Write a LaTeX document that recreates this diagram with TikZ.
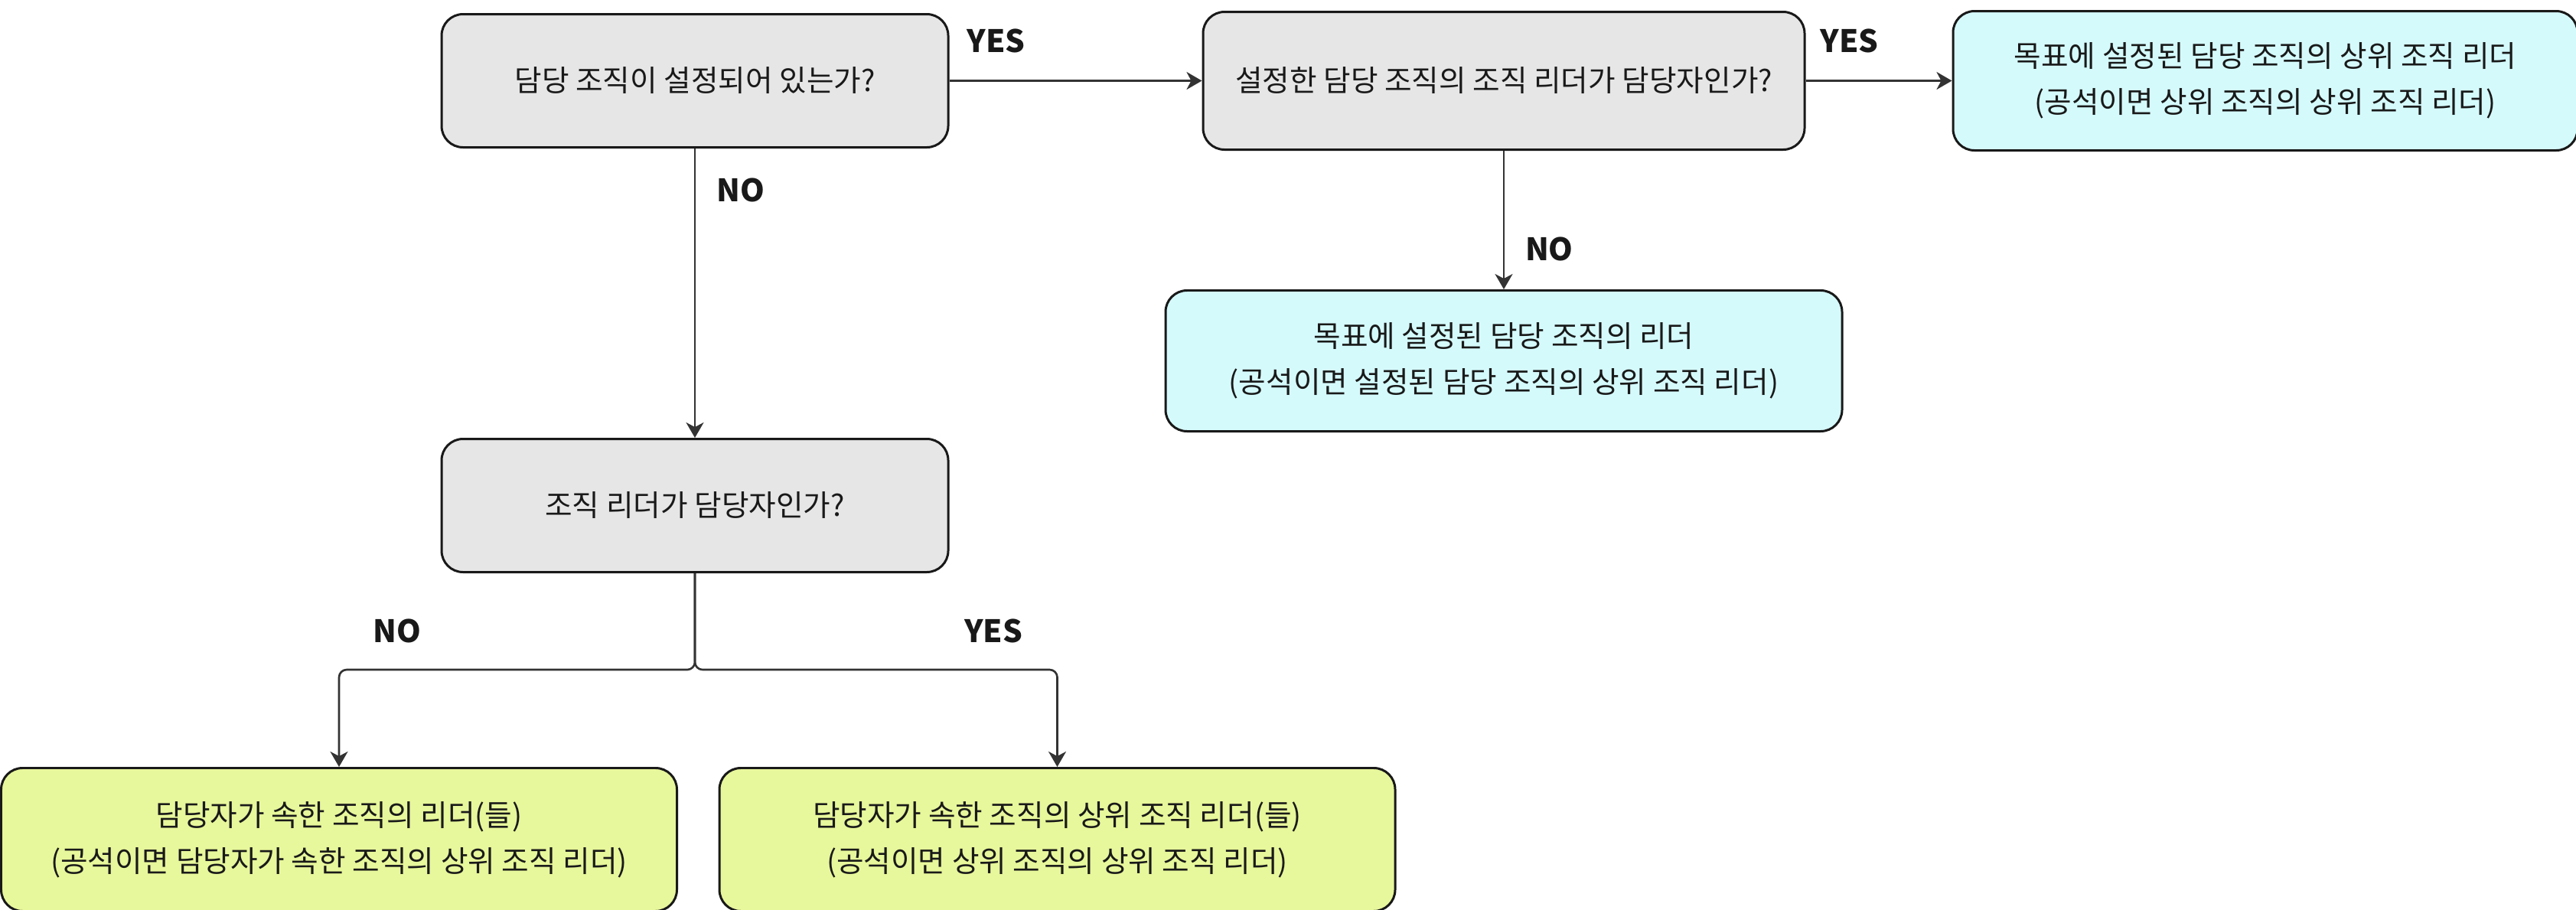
\documentclass[tikz,border=0pt]{standalone}
\usepackage{fontspec}
\setmainfont{Noto Sans CJK KR}
\usetikzlibrary{positioning}
\usetikzlibrary{arrows.meta}
\definecolor{askgray}{HTML}{E6E6E6}
\definecolor{leadcyan}{HTML}{D5FAFC}
\definecolor{leadlime}{HTML}{E7F79B}
\definecolor{linegray}{HTML}{333333}
\tikzset{
    question/.style={
        draw=black!90,
        line width=0.85pt,
        rounded corners=0.28cm,
        fill=askgray,
        text=black!90,
        minimum width=6.62cm,
        minimum height=1.74cm,
        align=center,
        font=\fontsize{11pt}{17pt}\selectfont
    },
    answer/.style={
        question,
        minimum width=8.83cm,
        minimum height=1.87cm
    },
    flow/.style={
        draw=linegray,
        ->,>={Stealth[length=2mm, width=2.3mm, inset=0.6mm]},
        line width=0.75pt
    },
    every edge/.append style={
        flow
    },
    yesno/.style={
        font=\fontsize{11.5pt}{12pt}\selectfont\bfseries,
        text=black!90
    }
}

\begin{document}
\begin{tikzpicture}
                \useasboundingbox (0,0) rectangle (33.66,-11.88);
                \node[question] (hasorg) at (9.08,-1.055) {담당 조직이 설정되어 있는가?};
                \node[question, right=3.3cm of hasorg, minimum width=7.86cm, minimum height=1.8cm] (orglead) {설정한 담당 조직의 조직 리더가 담당자인가?};
                \node[answer, right=1.91cm of orglead, fill=leadcyan, minimum width=8.16cm, minimum height=1.82cm] (upperlead) {목표에 설정된 담당 조직의 상위 조직 리더\\(공석이면 상위 조직의 상위 조직 리더)};
                \node[answer, below=1.81cm of orglead, fill=leadcyan, minimum width=8.84cm, minimum height=1.84cm] (setlead) {목표에 설정된 담당 조직의 리더\\(공석이면 설정된 담당 조직의 상위 조직 리더)};
                \node[question, below=3.78cm of hasorg] (isleader) {조직 리더가 담당자인가?};
                \node[answer, below=2.53cm of isleader, xshift=-4.65cm, fill=leadlime] (ownlead) {담당자가 속한 조직의 리더(들)\\(공석이면 담당자가 속한 조직의 상위 조직 리더)};
                \node[answer, below=2.53cm of isleader, xshift=4.735cm, fill=leadlime] (upperown) {담당자가 속한 조직의 상위 조직 리더(들)\\(공석이면 상위 조직의 상위 조직 리더)};
                \draw (hasorg) edge node[yesno, pos=0.185, above=0.235cm] (yesorg) {YES} (orglead)
                    edge node[yesno, pos=0.143, right=0.155cm] (noorg) {NO} (isleader);
                \draw (orglead) edge node[yesno, pos=0.3, above=0.235cm] (yesupper) {YES} (upperlead)
                    edge node[yesno, pos=0.71, right=0.15cm] (noupper) {NO} (setlead);
                \draw[flow, rounded corners=0.1cm] (isleader.south) -- ++(0,-1.26) coordinate (split)
                    -| node[yesno, pos=0.418, above=0.215cm] (noleader) {NO} (ownlead.north);
                \draw[flow, rounded corners=0.1cm] (split) ++(0,1.26) -- (split)
                    -| node[yesno, pos=0.412, above=0.215cm] (yesleader) {YES} (upperown.north);
            \end{tikzpicture}
\end{document}
